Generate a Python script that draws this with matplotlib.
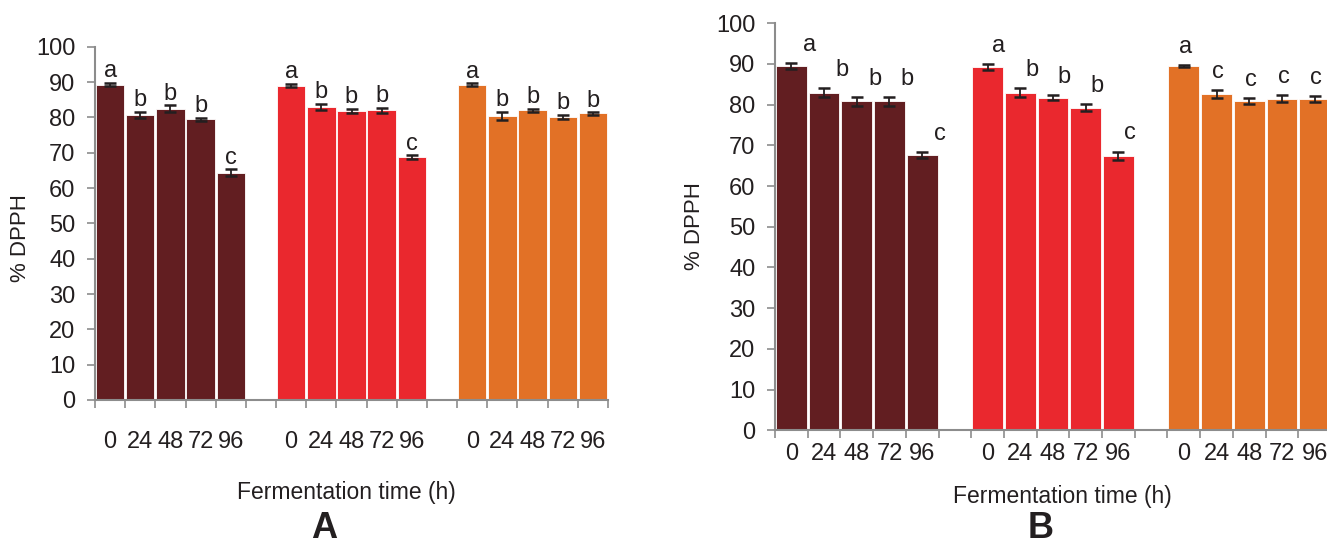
import numpy as np
import matplotlib
matplotlib.use("Agg")
import matplotlib.pyplot as plt

plt.rcParams["font.family"] = ["Liberation Sans", "DejaVu Sans"]

# fermentation times and sample colours
times = ["0", "24", "48", "72", "96"]
colors = ["#621E21", "#EA282E", "#E27126"]

# panel A: mean % DPPH, SD and significance letters per sample
a_means = [[89.3, 80.7, 82.5, 79.4, 64.3],
           [89.0, 82.9, 81.9, 82.0, 68.7],
           [89.3, 80.4, 82.0, 80.2, 81.1]]
a_err = [[0.5, 0.95, 0.95, 0.4, 1.0],
         [0.5, 0.95, 0.6, 0.65, 0.6],
         [0.3, 1.1, 0.4, 0.55, 0.3]]
a_letters = [["a", "b", "b", "b", "c"],
             ["a", "b", "b", "b", "c"],
             ["a", "b", "b", "b", "b"]]

# panel B
b_means = [[89.5, 82.9, 80.8, 80.8, 67.6],
           [89.2, 82.9, 81.7, 79.3, 67.5],
           [89.5, 82.6, 80.9, 81.5, 81.4]]
b_err = [[0.7, 1.1, 1.0, 1.0, 0.7],
         [0.75, 1.1, 0.65, 0.75, 1.0],
         [0.25, 1.0, 0.8, 0.8, 0.8]]
b_letters = [["a", "b", "b", "b", "c"],
             ["a", "b", "b", "b", "c"],
             ["a", "c", "c", "c", "c"]]

GRAY = "#8C8C8C"
TXT = "#231F20"
FS = 17

W, H = 1327, 546
fig = plt.figure(figsize=(W / 100, H / 100), dpi=100)


def panel(rect, means, errs, letters, label_pad, letter_gap, letter_dx):
    ax = fig.add_axes(rect)
    n = len(times)
    for g in range(3):
        x = np.arange(n) + g * (n + 1)
        ax.bar(x, means[g], width=0.94, color=colors[g],
               edgecolor="white", linewidth=0.6, zorder=2)
        ax.errorbar(x, means[g], yerr=errs[g], fmt="none", ecolor=TXT,
                    elinewidth=1.3, capsize=4.5, capthick=1.8, zorder=3)
        for xi, m, e, lt in zip(x, means[g], errs[g], letters[g]):
            ax.text(xi + letter_dx[g], m + e + letter_gap, lt, ha="center",
                    va="baseline", fontsize=FS, color=TXT)
    nslots = 3 * n + 2
    ax.set_xlim(-0.5, nslots - 0.5)
    ax.set_ylim(0, 100)
    centers = [g * (n + 1) + i for g in range(3) for i in range(n)]
    ax.set_xticks(centers)
    ax.set_xticklabels(times * 3)
    ax.set_xticks(np.arange(nslots + 1) - 0.5, minor=True)
    ax.tick_params(axis="x", which="major", length=0, pad=label_pad,
                   labelsize=FS, labelcolor=TXT)
    ax.tick_params(axis="x", which="minor", length=6, width=1.2,
                   color=GRAY, direction="out")
    ax.set_yticks(np.arange(0, 101, 10))
    ax.tick_params(axis="y", length=6, width=1.2, color=GRAY, pad=8,
                   labelsize=FS, labelcolor=TXT)
    for s in ["top", "right"]:
        ax.spines[s].set_visible(False)
    for s in ["left", "bottom"]:
        ax.spines[s].set_color(GRAY)
        ax.spines[s].set_linewidth(1.5)
    return ax


panel([95 / W, 1 - 400 / H, 513 / W, 353.3 / H], a_means, a_err, a_letters,
      22, 1.6, [0, 0, 0])
panel([775 / W, 1 - 430.3 / H, 556 / W, 407 / H], b_means, b_err, b_letters,
      9, 3.0, [0.55, 0.35, 0.05])

# axis titles and panel tags
fig.text(21 / W, 1 - 238 / H, "% DPPH", rotation=90, ha="center",
         va="center", fontsize=16, color=TXT)
fig.text(694 / W, 1 - 226 / H, "% DPPH", rotation=90, ha="center",
         va="center", fontsize=16, color=TXT)
fig.text(346 / W, 1 - 492 / H, "Fermentation time (h)", ha="center",
         va="center", fontsize=16.5, color=TXT)
fig.text(1062 / W, 1 - 497 / H, "Fermentation time (h)", ha="center",
         va="center", fontsize=16.5, color=TXT)
fig.text(324 / W, 1 - 529 / H, "A", ha="center", va="center",
         fontsize=26, fontweight="bold", color=TXT)
fig.text(1041 / W, 1 - 529 / H, "B", ha="center", va="center",
         fontsize=26, fontweight="bold", color=TXT)

fig.savefig("out.png", dpi=100)
